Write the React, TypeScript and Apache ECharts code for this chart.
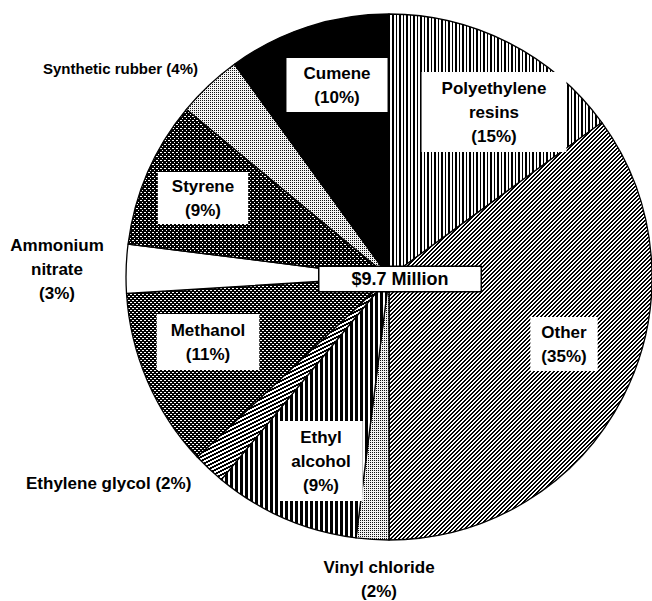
import React, { useEffect, useRef } from "react";
import * as echarts from "echarts";

// ---- data ----
const categories = [
  "Polyethylene resins",
  "Other",
  "Vinyl chloride",
  "Ethyl alcohol",
  "Ethylene glycol",
  "Methanol",
  "Ammonium nitrate",
  "Styrene",
  "Synthetic rubber",
  "Cumene",
];
const shares = [15, 35, 2, 9, 2, 11, 3, 9, 4, 10];
const labelNames = [
  "Polyethylene\nresins",
  "Other",
  "Vinyl chloride",
  "Ethyl\nalcohol",
  "Ethylene glycol",
  "Methanol",
  "Ammonium\nnitrate",
  "Styrene",
  "Synthetic rubber",
  "Cumene",
];
const percentOnSameLine = [false, false, false, false, true, false, false, false, true, false];
const totalLabel = "$9.7 Million";

// ---- layout / style (not data) ----
// [x, y, align, boxed, padding [v,h], fontSize]
const labelLayoutCfg: Array<[number, number, string, boolean, number[], number]> = [
  [494, 112, "center", true, [4, 20], 17],
  [564, 344, "center", true, [3, 11], 17],
  [379, 579, "center", false, [0, 0], 17],
  [321, 461, "center", true, [4, 12], 17],
  [26, 483, "left", false, [0, 0], 17],
  [208, 342, "center", true, [4, 14], 17],
  [57, 269, "center", false, [0, 0], 17],
  [203, 198, "center", true, [2, 14], 17],
  [43, 68, "left", false, [0, 0], 15],
  [337, 85, "center", true, [3, 17], 17],
];

function makePattern(
  w: number,
  h: number,
  fg: string,
  bg: string,
  test: (x: number, y: number) => boolean
): any {
  const c = document.createElement("canvas");
  c.width = w;
  c.height = h;
  const ctx = c.getContext("2d")!;
  ctx.fillStyle = bg;
  ctx.fillRect(0, 0, w, h);
  ctx.fillStyle = fg;
  for (let y = 0; y < h; y++) {
    for (let x = 0; x < w; x++) {
      if (test(x, y)) ctx.fillRect(x, y, 1, 1);
    }
  }
  return { image: c, repeat: "repeat", imageWidth: w, imageHeight: h };
}

function buildFills(): any[] {
  const B = "#000000";
  const W = "#ffffff";
  return [
    // Polyethylene resins: vertical lines on white
    makePattern(7, 1, B, W, (x) => x === 0 || x === 1 || x === 4),
    // Other: fine "/" diagonal hatch
    makePattern(4, 4, B, W, (x, y) => (x + y) % 4 < 2),
    // Vinyl chloride: light stipple
    makePattern(2, 2, "#111", "#f2f2f2", (x, y) => x === 0 && y === 0),
    // Ethyl alcohol: dense vertical lines
    makePattern(5, 1, B, W, (x) => x < 3),
    // Ethylene glycol: shallow diagonal stripes
    makePattern(8, 4, B, W, (x, y) => (x + 2 * y) % 8 < 4),
    // Methanol: dark stipple (white dots on black)
    makePattern(4, 4, W, B, (x, y) => (y % 4 === 0 && x < 2) || (y % 4 === 2 && x >= 2)),
    // Ammonium nitrate: white
    W,
    // Styrene: dark stipple
    makePattern(4, 4, W, B, (x, y) => (x === 0 && y === 0) || (x === 2 && y === 2) || (x === 1 && y === 0)),
    // Synthetic rubber: light stipple
    makePattern(2, 2, "#111", "#f5f5f5", (x, y) => x === 0 && y === 0),
    // Cumene: black
    B,
  ];
}

export default function App() {
  const ref = useRef<HTMLDivElement>(null);

  useEffect(() => {
    if (!ref.current) return;
    const chart = echarts.init(ref.current, undefined, { renderer: "svg" });
    const fills = buildFills();
    const font = '"Liberation Sans", Arial, Helvetica, sans-serif';

    const data = categories.map((name, i) => {
      const cfg = labelLayoutCfg[i];
      return {
        name,
        value: shares[i],
        itemStyle: { color: fills[i] },
        label: {
          backgroundColor: cfg[3] ? "#ffffff" : "transparent",
          padding: cfg[4],
          fontSize: cfg[5],
          align: cfg[2],
        },
      };
    });

    chart.setOption({
      animation: false,
      backgroundColor: "#ffffff",
      series: [
        {
          type: "pie",
          center: [389, 277],
          radius: 263,
          startAngle: 90,
          clockwise: true,
          silent: true,
          emphasis: { disabled: true },
          itemStyle: { borderColor: "#000000", borderWidth: 1.3 },
          labelLine: { show: false },
          label: {
            show: true,
            position: "inside",
            color: "#000000",
            fontFamily: font,
            fontWeight: "bold",
            fontSize: 17,
            lineHeight: 24,
            textBorderWidth: 0,
            formatter: (p: any) => {
              const i = p.dataIndex;
              return `${labelNames[i]}${percentOnSameLine[i] ? " " : "\n"}(${shares[i]}%)`;
            },
          },
          labelLayout: (p: any) => {
            const cfg = labelLayoutCfg[p.dataIndex];
            return { x: cfg[0], y: cfg[1], align: cfg[2], verticalAlign: "middle" };
          },
          data,
        },
      ],
      graphic: [
        {
          type: "text",
          x: 400,
          y: 279,
          z: 100,
          style: {
            text: totalLabel,
            align: "center",
            verticalAlign: "middle",
            font: `bold 18px ${font}`,
            fill: "#000000",
            backgroundColor: "#ffffff",
            borderColor: "#000000",
            borderWidth: 1.5,
            padding: [3, 32, 3, 32],
          },
        },
      ],
    });

    return () => chart.dispose();
  }, []);

  return (
    <div
      ref={ref}
      style={{ position: "absolute", left: 0, top: 0, width: 652, height: 601, background: "#fff" }}
    />
  );
}
